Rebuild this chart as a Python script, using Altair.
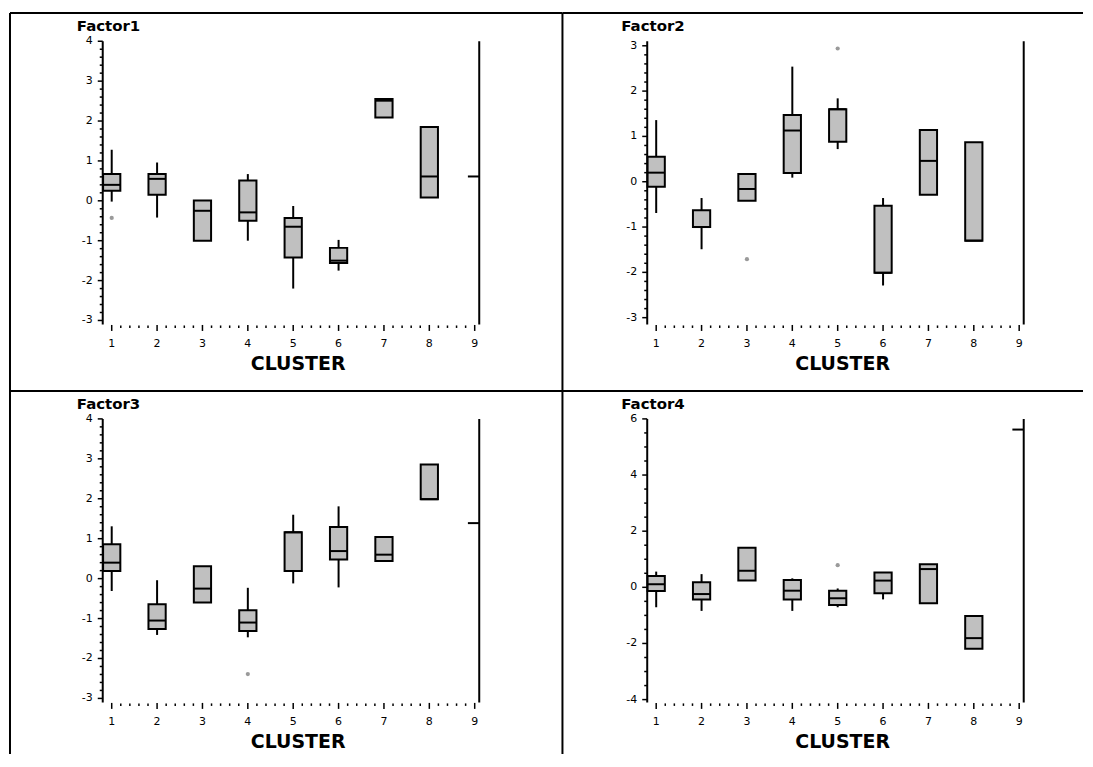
import altair as alt
import pandas as pd
import numpy as np

CLUSTERS = [1, 2, 3, 4, 5, 6, 7, 8]
CLUSTER_LABELS = ["1", "2", "3", "4", "5", "6", "7", "8", "9"]

# Factor1
F1_Q1 = [0.25, 0.15, -1.00, -0.50, -1.42, -1.56, 2.09, 0.08]
F1_MED = [0.40, 0.55, -0.25, -0.29, -0.65, -1.50, 2.51, 0.61]
F1_Q3 = [0.67, 0.67, 0.01, 0.51, -0.43, -1.18, 2.55, 1.85]
F1_WLO = [-0.02, -0.42, -1.00, -1.00, -2.20, -1.75, 2.09, 0.08]
F1_WHI = [1.28, 0.96, 0.01, 0.67, -0.13, -0.98, 2.55, 1.85]
F1_OUT_C = [1]
F1_OUT_V = [-0.43]
F1_C9 = 0.61

# Factor2
F2_Q1 = [-0.11, -1.00, -0.42, 0.19, 0.88, -2.01, -0.29, -1.30]
F2_MED = [0.20, -1.00, -0.16, 1.13, 1.60, -2.01, 0.46, -1.30]
F2_Q3 = [0.55, -0.63, 0.17, 1.47, 1.60, -0.53, 1.14, 0.87]
F2_WLO = [-0.69, -1.49, -0.42, 0.09, 0.72, -2.29, -0.29, -1.30]
F2_WHI = [1.36, -0.36, 0.17, 2.54, 1.84, -0.36, 1.14, 0.87]
F2_OUT_C = [3, 5]
F2_OUT_V = [-1.71, 2.94]
F2_C9 = None

# Factor3
F3_Q1 = [0.19, -1.26, -0.60, -1.31, 0.19, 0.48, 0.44, 1.99]
F3_MED = [0.40, -1.05, -0.25, -1.10, 1.16, 0.69, 0.60, 1.99]
F3_Q3 = [0.86, -0.64, 0.31, -0.79, 1.16, 1.29, 1.04, 2.86]
F3_WLO = [-0.31, -1.41, -0.60, -1.47, -0.12, -0.22, 0.44, 1.99]
F3_WHI = [1.31, -0.04, 0.31, -0.23, 1.60, 1.81, 1.04, 2.86]
F3_OUT_C = [4]
F3_OUT_V = [-2.39]
F3_C9 = 1.39

# Factor4
F4_Q1 = [-0.13, -0.43, 0.24, -0.43, -0.63, -0.21, -0.57, -2.19]
F4_MED = [0.11, -0.24, 0.59, -0.12, -0.39, 0.24, 0.65, -1.81]
F4_Q3 = [0.40, 0.18, 1.41, 0.26, -0.12, 0.53, 0.82, -1.02]
F4_WLO = [-0.71, -0.84, 0.24, -0.84, -0.71, -0.43, -0.57, -2.19]
F4_WHI = [0.56, 0.47, 1.41, 0.32, -0.04, 0.53, 0.82, -1.02]
F4_OUT_C = [5]
F4_OUT_V = [0.79]
F4_C9 = 5.62

PX = 45.5              # pixels per cluster step
AXIS_X = 1 - 9 / PX    # y-axis line position in cluster units
FRAME_X = 9.1          # right frame line
HALF = 0.19            # half box width
FONT = "DejaVu Sans"
BOX_FILL = "#c0c0c0"


def panel(name, q1, med, q3, wlo, whi, out_c, out_v, c9, cell, x1_page,
          y_top, y_bot, vmax, vmin, major, minor_step):
    cx, cy, cw, ch = cell
    xdom = [1 - (x1_page - cx) / PX, 1 + (cx + cw - x1_page) / PX]
    ppu = (y_bot - y_top) / (vmax - vmin)
    ydom = [vmin - (cy + ch - y_bot) / ppu, vmax + (y_top - cy) / ppu]
    xs = alt.Scale(domain=xdom, nice=False, zero=False)
    ys = alt.Scale(domain=ydom, nice=False, zero=False)

    def X(f):
        return alt.X(f, type="quantitative", scale=xs, axis=None)

    def Y(f):
        return alt.Y(f, type="quantitative", scale=ys, axis=None)

    ybot_c = y_bot - cy
    axis_px = x1_page - cx - 9
    one = pd.DataFrame({"a": [0]})

    boxes = pd.DataFrame({
        "c": CLUSTERS, "q1": q1, "med": med, "q3": q3, "wlo": wlo, "whi": whi,
    })
    boxes["l"] = boxes["c"] - HALF
    boxes["r"] = boxes["c"] + HALF

    layers = []
    # cell borders (top and left)
    layers.append(alt.Chart(one).mark_rule(color="black", strokeWidth=2).encode(
        x=alt.value(0), x2=alt.value(cw), y=alt.value(0)))
    layers.append(alt.Chart(one).mark_rule(color="black", strokeWidth=2).encode(
        x=alt.value(0), y=alt.value(0), y2=alt.value(ch)))
    # panel title
    layers.append(alt.Chart(one).mark_text(
        text=name, font=FONT, fontSize=15, fontWeight="bold", align="left",
        baseline="middle", color="black").encode(
        x=alt.value(axis_px - 26), y=alt.value(y_top - cy - 15)))
    # y axis line and right frame
    ax = pd.DataFrame({"x": [AXIS_X, FRAME_X], "y0": [vmin, vmin], "y1": [vmax, vmax]})
    layers.append(alt.Chart(ax).mark_rule(color="black", strokeWidth=2).encode(
        x=X("x"), y=Y("y0"), y2=alt.Y2("y1")))
    # y ticks
    maj = pd.DataFrame({"v": major, "lab": [str(m) for m in major]})
    maj["x0"] = AXIS_X - 5 / PX
    maj["x1"] = AXIS_X
    layers.append(alt.Chart(maj).mark_rule(color="black", strokeWidth=1.5).encode(
        x=X("x0"), x2=alt.X2("x1"), y=Y("v")))
    nmin = int(round((vmax - vmin) / minor_step)) + 2
    start = np.ceil(vmin / minor_step) * minor_step
    mins = [round(start + i * minor_step, 4) for i in range(nmin)]
    mins = [m for m in mins if vmin <= m <= vmax and all(abs(m - M) > 1e-6 for M in major)]
    mn = pd.DataFrame({"v": mins})
    mn["x0"] = AXIS_X - 3 / PX
    mn["x1"] = AXIS_X
    layers.append(alt.Chart(mn).mark_rule(color="black", strokeWidth=1.5).encode(
        x=X("x0"), x2=alt.X2("x1"), y=Y("v")))
    maj["xa"] = AXIS_X
    layers.append(alt.Chart(maj).mark_text(
        font=FONT, fontSize=11, align="right", baseline="middle", dx=-10,
        color="black").encode(x=X("xa"), y=Y("v"), text="lab:N"))
    # x ticks
    xt = pd.DataFrame({"c": list(range(1, 10)), "lab": CLUSTER_LABELS})
    layers.append(alt.Chart(xt).mark_rule(color="black", strokeWidth=1.5).encode(
        x=X("c"), y=alt.value(ybot_c + 0.5), y2=alt.value(ybot_c + 6.5)))
    xm = pd.DataFrame({"c": [round(1 + i * 0.2, 2) for i in range(41) if i % 5 != 0]})
    layers.append(alt.Chart(xm).mark_rule(color="black", strokeWidth=1.5).encode(
        x=X("c"), y=alt.value(ybot_c + 1), y2=alt.value(ybot_c + 3.5)))
    layers.append(alt.Chart(xt).mark_text(
        font=FONT, fontSize=11, align="center", baseline="middle",
        color="black").encode(x=X("c"), y=alt.value(ybot_c + 20), text="lab:N"))
    layers.append(alt.Chart(one).mark_text(
        text="CLUSTER", font=FONT, fontSize=19, fontWeight="bold", align="center",
        baseline="middle", color="black").encode(
        x=alt.value(x1_page - cx + 187), y=alt.value(ybot_c + 40)))
    # whiskers
    layers.append(alt.Chart(boxes).mark_rule(color="black", strokeWidth=2).encode(
        x=X("c"), y=Y("wlo"), y2=alt.Y2("q1")))
    layers.append(alt.Chart(boxes).mark_rule(color="black", strokeWidth=2).encode(
        x=X("c"), y=Y("q3"), y2=alt.Y2("whi")))
    # boxes
    layers.append(alt.Chart(boxes).mark_rect(
        fill=BOX_FILL, stroke="black", strokeWidth=2).encode(
        x=X("l"), x2=alt.X2("r"), y=Y("q1"), y2=alt.Y2("q3")))
    # medians
    layers.append(alt.Chart(boxes).mark_rule(color="black", strokeWidth=2).encode(
        x=X("l"), x2=alt.X2("r"), y=Y("med")))
    # outliers
    od = pd.DataFrame({"c": out_c, "v": out_v})
    layers.append(alt.Chart(od).mark_point(
        filled=True, color="#9a9a9a", size=18, opacity=1).encode(
        x=X("c"), y=Y("v")))
    # cluster 9 (single value)
    if c9 is not None:
        c9d = pd.DataFrame({"x0": [9 - 0.15], "x1": [FRAME_X], "v": [c9]})
        layers.append(alt.Chart(c9d).mark_rule(color="black", strokeWidth=2).encode(
            x=X("x0"), x2=alt.X2("x1"), y=Y("v")))

    return alt.layer(*layers).properties(width=cw, height=ch)


TOP_H = 379
BOT_H = 364
LEFT_W = 554
RIGHT_W = 522
X0 = 9
Y0 = 11
X1 = X0 + LEFT_W
Y1 = Y0 + TOP_H

p1 = panel("Factor1", F1_Q1, F1_MED, F1_Q3, F1_WLO, F1_WHI, F1_OUT_C, F1_OUT_V, F1_C9,
           (X0, Y0, LEFT_W, TOP_H), 111, 39.3, 323.3, 4.0, -3.1,
           [-3, -2, -1, 0, 1, 2, 3, 4], 0.2)
p2 = panel("Factor2", F2_Q1, F2_MED, F2_Q3, F2_WLO, F2_WHI, F2_OUT_C, F2_OUT_V, F2_C9,
           (X1, Y0, RIGHT_W, TOP_H), 657, 39.3, 323.3, 3.1, -3.15,
           [-3, -2, -1, 0, 1, 2, 3], 0.2)
p3 = panel("Factor3", F3_Q1, F3_MED, F3_Q3, F3_WLO, F3_WHI, F3_OUT_C, F3_OUT_V, F3_C9,
           (X0, Y1, LEFT_W, BOT_H), 111, 418.0, 702.3, 4.0, -3.1,
           [-3, -2, -1, 0, 1, 2, 3, 4], 0.2)
p4 = panel("Factor4", F4_Q1, F4_MED, F4_Q3, F4_WLO, F4_WHI, F4_OUT_C, F4_OUT_V, F4_C9,
           (X1, Y1, RIGHT_W, BOT_H), 657, 418.0, 702.3, 6.0, -4.1,
           [-4, -2, 0, 2, 4, 6], 0.5)

chart = alt.concat(p1, p2, p3, p4, columns=2, spacing=0, bounds="flush").properties(
    padding={"left": 0, "top": 2, "right": 0, "bottom": 0}
).resolve_scale(x="independent", y="independent").configure_view(stroke="transparent")

chart.save("out.html", embed_options={"renderer": "svg", "actions": False})
